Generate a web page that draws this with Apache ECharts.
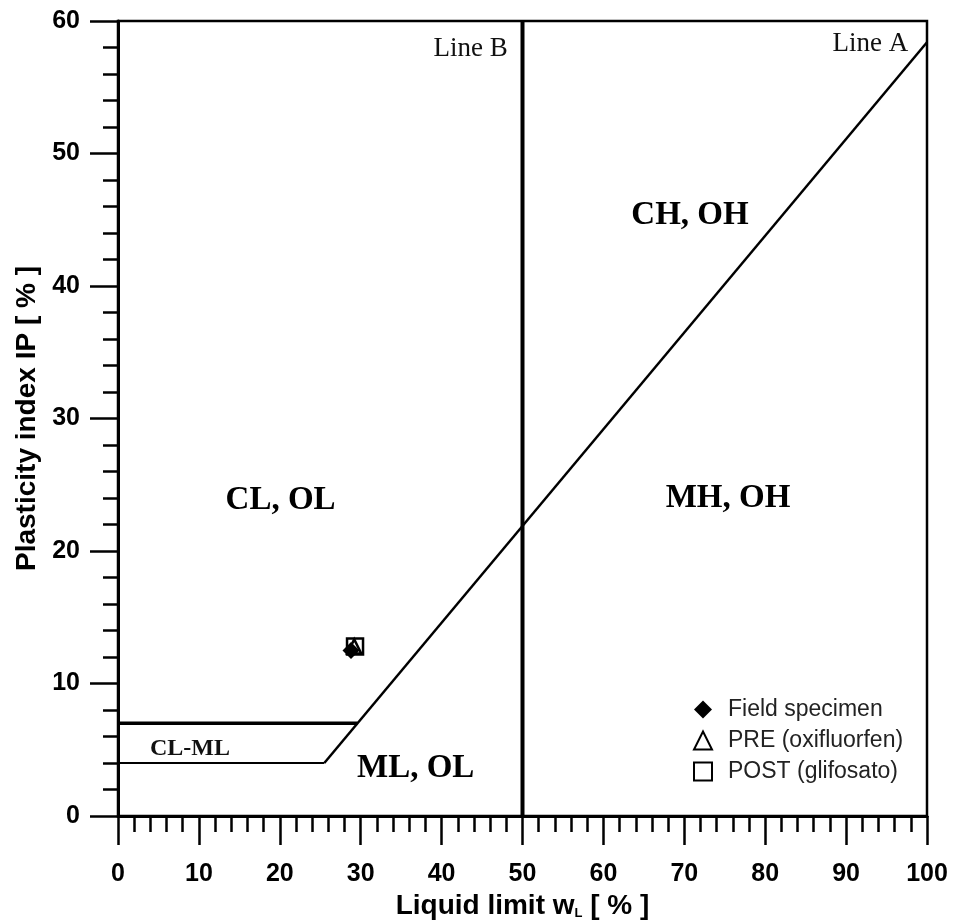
<!DOCTYPE html>
<html>
<head>
<meta charset="utf-8">
<script src="https://cdn.jsdelivr.net/npm/echarts@6/dist/echarts.min.js"></script>
<style>
  html, body { margin: 0; padding: 0; background: #fff; }
  #chart { width: 954px; height: 920px; }
</style>
</head>
<body>
<div id="chart"></div>
<script>
// plasticity chart data
var lineA = [[25.5, 4], [100, 58.4]];
var lineB = [[50, 0], [50, 60]];
var line7 = [[0, 7], [29.6, 7]];
var line4 = [[0, 4], [25.5, 4]];

var fieldSpecimen = [[28.8, 12.5]];
var preOxi = [[29.2, 12.8]];
var postGli = [[29.3, 12.8]];

var zoneNames = ['CH, OH', 'CL, OL', 'MH, OH', 'ML, OL'];
var zoneX = [70.7, 20.1, 75.4, 36.8];
var zoneY = [45.3, 23.8, 24.0, 3.6];

var smallNames = ['CL-ML', 'Line B', 'Line A'];
var smallX = [8.9, 43.6, 93.0];
var smallY = [5.1, 57.9, 58.3];

var chart = echarts.init(document.getElementById('chart'));

var axisFont = { fontFamily: 'Liberation Sans', fontWeight: 'bold', fontSize: 25, color: '#000' };

chart.setOption({
    animation: false,
    grid: {
        left: 118, top: 21, right: 27, bottom: 104,
        outerBoundsMode: 'none',
        show: true, borderColor: '#000', borderWidth: 2.5
    },
    legend: {
        orient: 'vertical',
        left: 688,
        top: 693,
        itemWidth: 18,
        itemHeight: 18,
        itemGap: 8,
        textStyle: { fontFamily: 'Liberation Sans', fontSize: 23, color: '#222', padding: [0, 0, 0, 11] },
        data: ['Field specimen', 'PRE (oxifluorfen)', 'POST (glifosato)']
    },
    xAxis: {
        type: 'value',
        min: 0, max: 100, interval: 10,
        name: 'Liquid limit w{sub|L} [ % ]',
        nameLocation: 'middle',
        nameGap: 70,
        nameTextStyle: {
            fontFamily: 'Liberation Sans', fontWeight: 'bold', fontSize: 28, color: '#000',
            rich: { sub: { fontFamily: 'Liberation Sans', fontSize: 13, fontWeight: 'bold', verticalAlign: 'bottom', padding: [14, 0, 0, 0] } }
        },
        axisLine: { lineStyle: { color: '#000', width: 3 } },
        axisTick: { show: true, length: 29, lineStyle: { color: '#000', width: 2.5 } },
        minorTick: { show: true, splitNumber: 5, length: 16, lineStyle: { color: '#000', width: 2.5 } },
        axisLabel: Object.assign({ margin: 46 }, axisFont),
        splitLine: { show: false }
    },
    yAxis: {
        type: 'value',
        min: 0, max: 60, interval: 10,
        name: 'Plasticity index IP [ % ]',
        nameLocation: 'middle',
        nameGap: 77,
        nameRotate: 90,
        nameTextStyle: { fontFamily: 'Liberation Sans', fontWeight: 'bold', fontSize: 28, color: '#000' },
        axisLine: { lineStyle: { color: '#000', width: 3 } },
        axisTick: { show: true, length: 28, lineStyle: { color: '#000', width: 2.5 } },
        minorTick: { show: true, splitNumber: 5, length: 15, lineStyle: { color: '#000', width: 2.5 } },
        axisLabel: Object.assign({ margin: 38 }, axisFont),
        splitLine: { show: false }
    },
    series: [
        { type: 'line', data: lineA, symbol: 'none', silent: true, lineStyle: { color: '#000', width: 2.5 } },
        { type: 'line', data: lineB, symbol: 'none', silent: true, lineStyle: { color: '#000', width: 4 } },
        { type: 'line', data: line7, symbol: 'none', silent: true, lineStyle: { color: '#000', width: 3.5 } },
        { type: 'line', data: line4, symbol: 'none', silent: true, lineStyle: { color: '#000', width: 2 } },
        {
            type: 'scatter', symbolSize: 0, silent: true,
            itemStyle: { opacity: 1 },
            data: zoneNames.map(function (n, i) { return { name: n, value: [zoneX[i], zoneY[i]] }; }),
            label: { show: true, position: 'inside', formatter: '{b}', fontFamily: 'Liberation Serif', fontWeight: 'bold', fontSize: 33, color: '#000' }
        },
        {
            type: 'scatter', symbolSize: 0, silent: true,
            itemStyle: { opacity: 1 },
            data: smallNames.map(function (n, i) {
                var bold = i === 0;
                return {
                    name: n, value: [smallX[i], smallY[i]],
                    label: { fontWeight: bold ? 'bold' : 'normal', fontSize: bold ? 24 : 27 }
                };
            }),
            label: { show: true, position: 'inside', formatter: '{b}', fontFamily: 'Liberation Serif', color: '#111' }
        },
        {
            name: 'Field specimen', type: 'scatter', data: fieldSpecimen,
            symbol: 'diamond', symbolSize: 17,
            itemStyle: { color: '#000', opacity: 1 }
        },
        {
            name: 'PRE (oxifluorfen)', type: 'scatter', data: preOxi,
            symbol: 'triangle', symbolSize: 14,
            itemStyle: { color: 'rgba(255,255,255,0)', borderColor: '#000', borderWidth: 2.5, opacity: 1 }
        },
        {
            name: 'POST (glifosato)', type: 'scatter', data: postGli,
            symbol: 'rect', symbolSize: 16,
            itemStyle: { color: 'rgba(255,255,255,0)', borderColor: '#000', borderWidth: 2.5, opacity: 1 }
        }
    ]
});
</script>
</body>
</html>
